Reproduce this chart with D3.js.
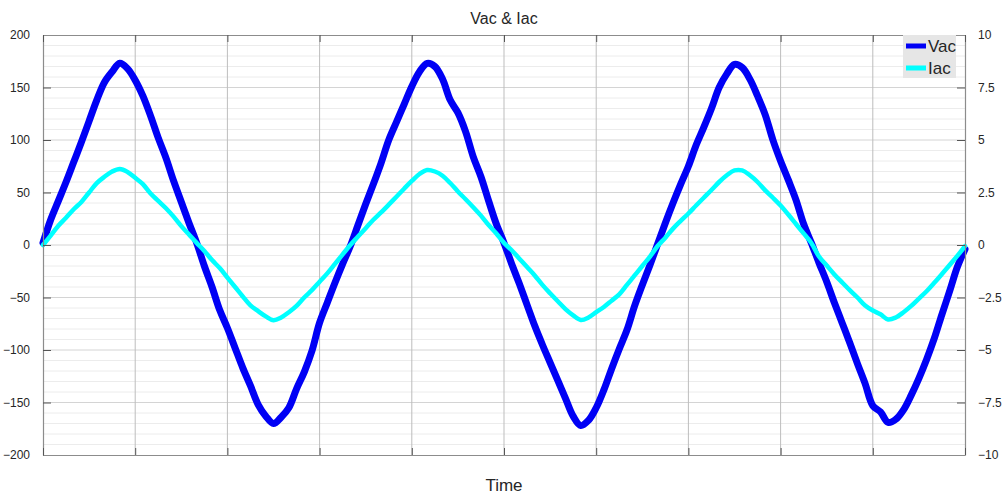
<!DOCTYPE html>
<html>
<head>
<meta charset="utf-8">
<script src="https://cdn.jsdelivr.net/npm/d3@7/dist/d3.min.js"></script>
<style>
  html, body { margin: 0; padding: 0; background: #fff; }
  svg { display: block; font-family: "Liberation Sans", Arial, sans-serif; }
</style>
</head>
<body>
<svg id="chart" width="1003" height="494"></svg>
<script>
// Sample times (ms) — one sample every 0.5 ms over three 50 Hz cycles
const timeMs = d3.range(0, 60.25, 0.5);

// Grid voltage (V), left axis
const vac = [
  2, 24, 42, 60, 79, 98, 118, 138, 155, 165,
  173, 168, 157, 142, 123, 102, 83, 61, 41, 21,
  2, -20, -40, -62, -79, -98, -117, -134, -152, -163,
  -170, -164, -155, -137, -121, -101, -74, -55, -36, -18,
  -1, 19, 39, 58, 78, 100, 117, 134, 151, 165,
  173, 170, 158, 138, 126, 108, 84, 65, 42, 20,
  2, -18, -37, -57, -77, -95, -112, -129, -146, -163,
  -172, -167, -155, -138, -118, -99, -81, -58, -38, -19,
  1, 21, 40, 58, 75, 95, 112, 130, 150, 163,
  172, 169, 158, 142, 124, 100, 80, 62, 43, 20,
  2, -17, -35, -55, -74, -93, -113, -132, -153, -159,
  -169, -166, -157, -143, -127, -109, -89, -66, -44, -21,
  -4
];

// Line current (A), right axis
const iac = [
  0.0, 0.45, 0.92, 1.3, 1.7, 2.05, 2.5, 2.95, 3.25, 3.5,
  3.62, 3.48, 3.2, 2.9, 2.45, 2.1, 1.75, 1.35, 0.9, 0.5,
  0.1, -0.28, -0.72, -1.1, -1.55, -2.0, -2.45, -2.88, -3.15, -3.4,
  -3.58, -3.45, -3.2, -2.9, -2.5, -2.15, -1.75, -1.35, -0.9, -0.45,
  0.0, 0.4, 0.8, 1.2, 1.55, 1.92, 2.3, 2.68, 3.05, 3.38,
  3.57, 3.5, 3.3, 2.95, 2.55, 2.18, 1.8, 1.4, 0.95, 0.55,
  0.1, -0.25, -0.65, -1.05, -1.45, -1.9, -2.3, -2.68, -3.05, -3.35,
  -3.57, -3.45, -3.2, -2.95, -2.65, -2.35, -1.9, -1.45, -1.0, -0.55,
  -0.05, 0.35, 0.78, 1.15, 1.5, 1.88, 2.25, 2.62, 3.0, 3.32,
  3.55, 3.55, 3.32, 3.0, 2.6, 2.25, 1.88, 1.45, 1.0, 0.55,
  0.1, -0.55, -0.98, -1.4, -1.78, -2.15, -2.5, -2.88, -3.12, -3.3,
  -3.55, -3.45, -3.2, -2.9, -2.55, -2.2, -1.8, -1.38, -0.95, -0.52,
  -0.05
];

const leftTicks = [-200, -150, -100, -50, 0, 50, 100, 150, 200];
const rightTicks = [-10, -7.5, -5, -2.5, 0, 2.5, 5, 7.5, 10];
const timeTicks = [0, 6, 12, 18, 24, 30, 36, 42, 48, 54, 60];
const seriesNames = ["Vac", "Iac"];
const seriesColors = ["#0000f5", "#00ffff"];

const margin = { left: 43, right: 38, top: 35, bottom: 39 };
const W = 1003, H = 494;
const svg = d3.select("#chart");

const x = d3.scaleLinear().domain([0, 60]).range([margin.left, W - margin.right]);
const yL = d3.scaleLinear().domain([-200, 200]).range([H - margin.bottom, margin.top]);
const yR = d3.scaleLinear().domain([-10, 10]).range([H - margin.bottom, margin.top]);

const x0 = x.range()[0], x1 = x.range()[1];
const yTop = yL.range()[1], yBot = yL.range()[0];

// Minor horizontal grid (every 10 V)
const minor = d3.range(-190, 200, 10).filter(v => v % 50 !== 0);
svg.append("g").selectAll("line").data(minor).join("line")
  .attr("x1", x0).attr("x2", x1)
  .attr("y1", d => yL(d)).attr("y2", d => yL(d))
  .attr("stroke", "#ececec").attr("stroke-width", 1);

// Major horizontal grid
svg.append("g").selectAll("line").data(leftTicks.slice(1, -1)).join("line")
  .attr("x1", x0).attr("x2", x1)
  .attr("y1", d => yL(d)).attr("y2", d => yL(d))
  .attr("stroke", "#d4d4d4").attr("stroke-width", 1);

// Vertical grid
svg.append("g").selectAll("line").data(timeTicks.slice(1, -1)).join("line")
  .attr("x1", d => x(d)).attr("x2", d => x(d))
  .attr("y1", yTop).attr("y2", yBot)
  .attr("stroke", "#bdbdbd").attr("stroke-width", 1);

// Curves
const lineV = d3.line().x((d, i) => x(timeMs[i])).y(d => yL(d)).curve(d3.curveCatmullRom.alpha(0.5));
const lineI = d3.line().x((d, i) => x(timeMs[i])).y(d => yR(d)).curve(d3.curveCatmullRom.alpha(0.5));

svg.append("path").datum(vac).attr("d", lineV)
  .attr("fill", "none").attr("stroke", seriesColors[0]).attr("stroke-width", 7)
  .attr("stroke-linejoin", "round").attr("stroke-linecap", "round");
svg.append("path").datum(iac).attr("d", lineI)
  .attr("fill", "none").attr("stroke", seriesColors[1]).attr("stroke-width", 4.5)
  .attr("stroke-linejoin", "round").attr("stroke-linecap", "round");

// Axes (ticks pointing inward)
const axisColor = "#8c8c8c";
const gL = svg.append("g").attr("transform", `translate(${x0},0)`)
  .call(d3.axisLeft(yL).tickValues(leftTicks).tickSizeInner(-8).tickSizeOuter(0).tickPadding(13));
const gR = svg.append("g").attr("transform", `translate(${x1},0)`)
  .call(d3.axisRight(yR).tickValues(rightTicks).tickSizeInner(-8).tickSizeOuter(0).tickPadding(13)
    .tickFormat(d3.format("")));
const gB = svg.append("g").attr("transform", `translate(0,${yBot})`)
  .call(d3.axisBottom(x).tickValues(timeTicks).tickSizeInner(-7).tickSizeOuter(0).tickFormat(""));
const gT = svg.append("g").attr("transform", `translate(0,${yTop})`)
  .call(d3.axisTop(x).tickValues(timeTicks).tickSizeInner(-7).tickSizeOuter(0).tickFormat(""));

[gL, gR, gB, gT].forEach(g => {
  g.select(".domain").attr("stroke", axisColor).attr("stroke-width", 1.2);
  g.selectAll(".tick line").attr("stroke", "#555");
  g.selectAll(".tick text").attr("fill", "#262626").style("font-size", "12px")
    .style("font-family", "'Liberation Sans', Arial, sans-serif");
});

// Title and axis label
svg.append("text").attr("x", (x0 + x1) / 2).attr("y", 24).attr("text-anchor", "middle")
  .style("font-size", "16px").attr("fill", "#262626").text("Vac & Iac");
svg.append("text").attr("x", (x0 + x1) / 2).attr("y", 491).attr("text-anchor", "middle")
  .style("font-size", "17px").attr("fill", "#262626").text("Time");

// Legend
const lg = svg.append("g").attr("transform", `translate(${x1 - 62},${yTop})`);
lg.append("rect").attr("width", 53).attr("height", 43).attr("fill", "#e6e6e6");
seriesNames.forEach((name, i) => {
  const cy = 11 + i * 22;
  lg.append("line").attr("x1", 3).attr("x2", 23).attr("y1", cy).attr("y2", cy)
    .attr("stroke", seriesColors[i]).attr("stroke-width", 5);
  lg.append("text").attr("x", 25).attr("y", cy + 6).style("font-size", "17px")
    .attr("fill", "#262626").text(name);
});
</script>
</body>
</html>
